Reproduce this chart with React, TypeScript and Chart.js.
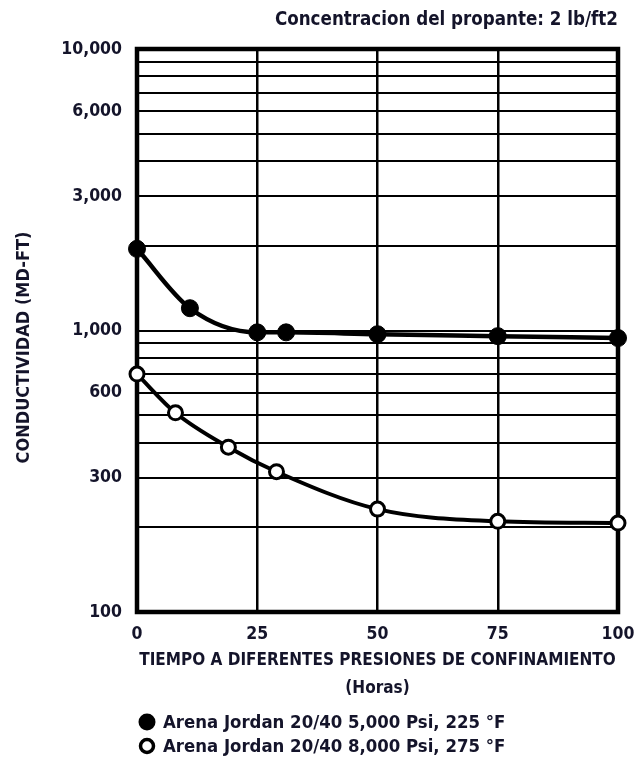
import React, { useEffect, useRef } from 'react';
import { Chart, registerables } from 'chart.js';

Chart.register(...registerables);

// ---- data ----
const hoursJordan5000 = [0, 11, 25, 31, 50, 75, 100];
const conductJordan5000 = [1950, 1200, 985, 985, 970, 955, 940];
const hoursJordan8000 = [0, 8, 19, 29, 50, 75, 100];
const conductJordan8000 = [700, 510, 385, 315, 232, 210, 207];
const seriesLabels = [
  'Arena Jordan 20/40 5,000 Psi, 225 °F',
  'Arena Jordan 20/40 8,000 Psi, 275 °F',
];
const xTickValues = [0, 25, 50, 75, 100];
const yGridValues = [
  100, 200, 300, 400, 500, 600, 700, 800, 900,
  1000, 2000, 3000, 4000, 5000, 6000, 7000, 8000, 9000, 10000,
];
const yTickLabels = [100, 300, 600, 1000, 3000, 6000, 10000];
const chartTitle = 'Concentracion del propante: 2 lb/ft2';
const xAxisTitle = ['TIEMPO A DIFERENTES PRESIONES DE CONFINAMIENTO', '(Horas)'];
const yAxisTitle = 'CONDUCTIVIDAD (MD-FT)';

const FONT = '"DejaVu Sans Condensed", "DejaVu Sans"';
const TEXT = '#14142a';

const frameLegendAndYTitle = {
  id: 'frameLegendAndYTitle',
  beforeDatasetsDraw(chart: any) {
    const { ctx, chartArea } = chart;
    ctx.save();
    ctx.strokeStyle = '#000';
    ctx.lineWidth = 4.5;
    ctx.strokeRect(chartArea.left, chartArea.top, chartArea.right - chartArea.left, chartArea.bottom - chartArea.top);
    ctx.restore();
  },
  afterDraw(chart: any) {
    const { ctx, chartArea } = chart;
    ctx.save();
    // y-axis title (rotated), centred slightly below the plot middle as in the reference
    ctx.translate(24, (chartArea.top + chartArea.bottom) / 2 + 17);
    ctx.rotate(-Math.PI / 2);
    ctx.fillStyle = TEXT;
    ctx.font = `bold 18px ${FONT}`;
    ctx.textAlign = 'center';
    ctx.textBaseline = 'middle';
    ctx.fillText(yAxisTitle, 0, 0);
    ctx.restore();

    ctx.save();
    chart.data.datasets.forEach((ds: any, i: number) => {
      const cy = chart.height - 35 + i * 24;
      const cx = chartArea.left + 10;
      ctx.beginPath();
      if (i === 0) {
        ctx.arc(cx, cy, 8.5, 0, Math.PI * 2);
        ctx.fillStyle = '#000';
        ctx.fill();
      } else {
        ctx.arc(cx, cy, 6.5, 0, Math.PI * 2);
        ctx.fillStyle = '#fff';
        ctx.fill();
        ctx.lineWidth = 3.5;
        ctx.strokeStyle = '#000';
        ctx.stroke();
      }
      ctx.fillStyle = TEXT;
      ctx.font = `bold 18.4px ${FONT}`;
      ctx.textAlign = 'left';
      ctx.textBaseline = 'middle';
      ctx.fillText(ds.label, cx + 16, cy + 1);
    });
    ctx.restore();
  },
};

export default function App() {
  const ref = useRef<HTMLCanvasElement | null>(null);

  useEffect(() => {
    if (!ref.current) return;
    const chart = new Chart(ref.current, {
      type: 'line',
      data: {
        datasets: [
          {
            label: seriesLabels[0],
            data: hoursJordan5000.map((x, i) => ({ x, y: conductJordan5000[i] })),
            borderColor: '#000',
            borderWidth: 4.5,
            backgroundColor: '#000',
            pointBackgroundColor: '#000',
            pointBorderColor: '#000',
            pointBorderWidth: 1,
            pointRadius: 8.5,
            cubicInterpolationMode: 'monotone',
            clip: false,
          },
          {
            label: seriesLabels[1],
            data: hoursJordan8000.map((x, i) => ({ x, y: conductJordan8000[i] })),
            borderColor: '#000',
            borderWidth: 4,
            backgroundColor: '#fff',
            pointBackgroundColor: '#fff',
            pointBorderColor: '#000',
            pointBorderWidth: 3,
            pointRadius: 7,
            cubicInterpolationMode: 'monotone',
            clip: false,
          },
        ],
      },
      options: {
        responsive: false,
        animation: false,
        devicePixelRatio: 1,
        layout: { padding: { left: 0, right: 19, top: 0, bottom: 54 } },
        plugins: {
          legend: { display: false },
          tooltip: { enabled: false },
          title: {
            display: true,
            text: chartTitle,
            align: 'end',
            color: TEXT,
            font: { family: FONT, size: 18.6, weight: 'bold', lineHeight: '20px' },
            padding: { top: 10, bottom: 19 },
          },
        },
        scales: {
          x: {
            type: 'linear',
            min: 0,
            max: 100,
            afterBuildTicks: (s: any) => {
              s.ticks = xTickValues.map((v) => ({ value: v }));
            },
            afterFit: (s: any) => {
              s.height = 91;
              s.paddingLeft = 0;
              s.paddingRight = 0;
            },
            ticks: {
              autoSkip: false,
              maxRotation: 0,
              padding: 12,
              color: TEXT,
              font: { family: FONT, size: 17.5, weight: 'bold', lineHeight: '20px' },
              callback: (v: any) => String(v),
            },
            grid: { color: '#000', lineWidth: 2.5, drawTicks: false },
            border: { display: false },
            title: {
              display: true,
              text: xAxisTitle,
              color: TEXT,
              font: { family: FONT, size: 17, weight: 'bold', lineHeight: '28px' },
              padding: { top: 0, bottom: 0 },
            },
          },
          y: {
            type: 'logarithmic',
            min: 100,
            max: 10000,
            afterBuildTicks: (s: any) => {
              s.ticks = yGridValues.map((v) => ({ value: v }));
            },
            afterFit: (s: any) => {
              s.width = 137;
              s.paddingTop = 0;
              s.paddingBottom = 0;
            },
            ticks: {
              autoSkip: false,
              padding: 15,
              color: TEXT,
              font: { family: FONT, size: 17.5, weight: 'bold' },
              callback: (v: any) => (yTickLabels.includes(Number(v)) ? Number(v).toLocaleString('en-US') : ''),
            },
            grid: { color: '#000', lineWidth: 2, drawTicks: false },
            border: { display: false },
            title: { display: false, text: yAxisTitle },
          },
        },
      },
      plugins: [frameLegendAndYTitle],
    } as any);
    return () => chart.destroy();
  }, []);

  return (
    <div style={{ position: 'absolute', left: 0, top: 0, width: 637, height: 757, background: '#fff' }}>
      <canvas ref={ref} width={637} height={757} />
    </div>
  );
}
